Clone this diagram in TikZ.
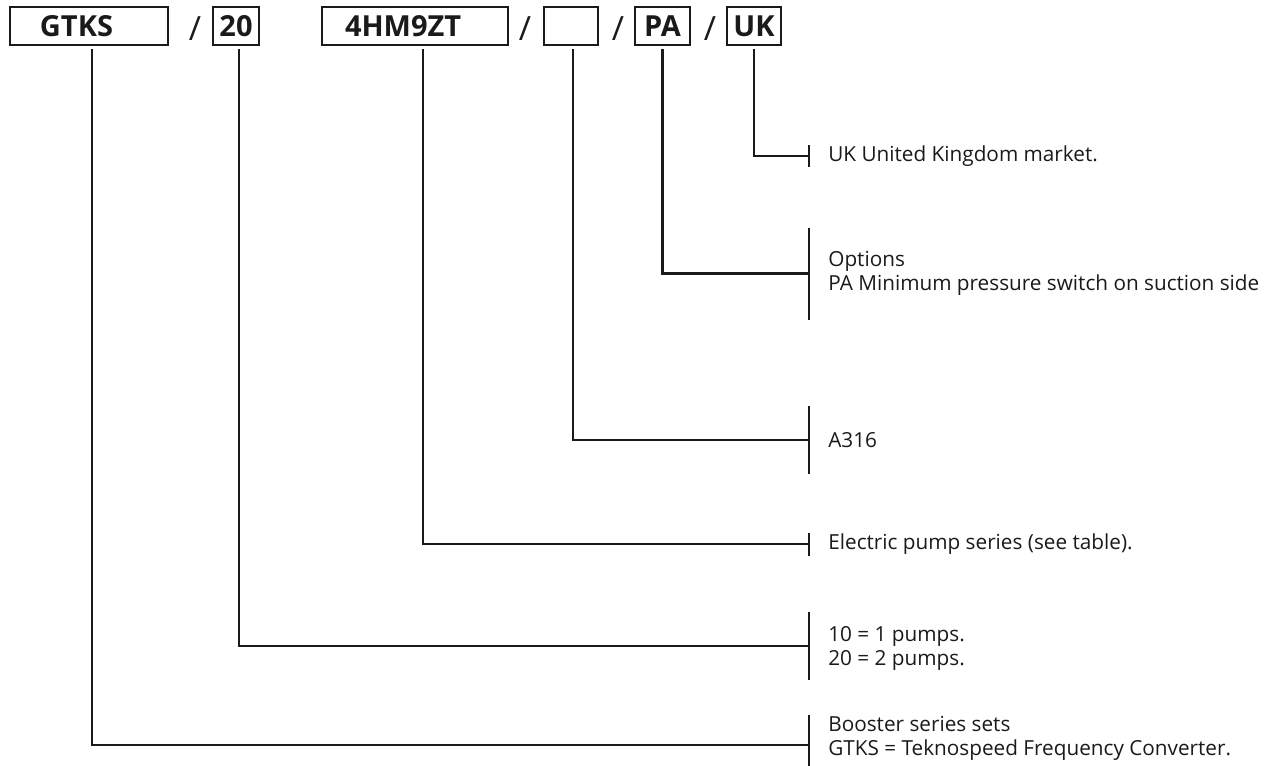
\documentclass[tikz,border=0pt]{standalone}
\usepackage{fontspec}
\setmainfont{Open Sans}
\usepackage{xcolor}
\usepackage{tikz}
\usetikzlibrary{positioning}
\definecolor{ink}{HTML}{1A1A1A}
\tikzset{
  codebox/.style={draw=ink, line width=1.4pt, minimum height=0.76cm, inner sep=0pt, text=ink, font=\fontsize{16.5}{18}\selectfont\bfseries},
  slash/.style={text=ink, inner sep=0pt, font=\fontsize{19}{20}\selectfont},
  leader/.style={draw=ink, line width=1.4pt, shorten <=0.06cm},
  tickline/.style={draw=ink, line width=1.4pt},
  lab/.style={text=ink, inner sep=0pt, align=left, font=\fontsize{11.8}{13.6}\selectfont},
}

\begin{document}
\begin{tikzpicture}
  \useasboundingbox (0,0) rectangle (25.58,-15.3);
  % code boxes
  \node[codebox, inner xsep=0.6cm, text width=1.96cm, align=left] (bG) at (1.78,-0.52) {GTKS};
  \node[slash] (s1) at (3.9,-0.57) {/};
  \node[codebox, minimum width=0.92cm] (b20) at (4.72,-0.52) {20};
  \node[codebox, inner xsep=0.46cm, text width=2.8cm, align=left] (bHM) at (8.3,-0.52) {4HM9ZT};
  \node[slash] (s2) at (10.5,-0.57) {/};
  \node[codebox, minimum width=1.08cm] (bE) at (11.42,-0.52) {};
  \node[slash] (s3) at (12.36,-0.57) {/};
  \node[codebox, minimum width=1.1cm] (bPA) at (13.25,-0.52) {PA};
  \node[slash] (s4) at (14.2,-0.57) {/};
  \node[codebox, minimum width=1.08cm] (bUK) at (15.08,-0.52) {UK};

  % tick points
  \coordinate (tUK) at (16.18,-3.12);
  \coordinate (tPA) at (16.18,-5.47);
  \coordinate (tE) at (16.18,-8.8);
  \coordinate (tHM) at (16.18,-10.88);
  \coordinate (t20) at (16.18,-12.92);
  \coordinate (tG) at (16.18,-14.9);

  \draw[tickline] ([yshift=0.21cm]tUK) -- ([yshift=-0.21cm]tUK);
  \draw[tickline] ([yshift=0.92cm]tPA) -- ([yshift=-0.92cm]tPA);
  \draw[tickline] ([yshift=0.68cm]tE) -- ([yshift=-0.68cm]tE);
  \draw[tickline] ([yshift=0.23cm]tHM) -- ([yshift=-0.23cm]tHM);
  \draw[tickline] ([yshift=0.68cm]t20) -- ([yshift=-0.68cm]t20);
  \draw[tickline] ([yshift=0.6cm]tG) -- ([yshift=-0.6cm]tG);

  % leaders
  \draw[leader] (bUK.south) |- (tUK);
  \draw[leader] (bPA.south) |- (tPA);
  \draw[leader] ([xshift=0.04cm]bE.south) |- (tE);
  \draw[leader] ([xshift=0.16cm]bHM.south) |- (tHM);
  \draw[leader] ([xshift=0.06cm]b20.south) |- (t20);
  \draw[leader] ([xshift=0.06cm]bG.south) |- (tG);

  % descriptions
  \node[lab, right=0.38cm of tUK] (dUK) {UK United Kingdom market.};
  \node[lab, right=0.38cm of tPA] (dPA) {Options\\PA Minimum pressure switch on suction side};
  \node[lab, right=0.38cm of tE] (dE) {A316};
  \node[lab, right=0.38cm of tHM] (dHM) {Electric pump series (see table).};
  \node[lab, right=0.38cm of t20, yshift=-0.05cm] (d20) {10 = 1 pumps.\\20 = 2 pumps.};
  \node[lab, right=0.38cm of tG, yshift=0.14cm] (dG) {Booster series sets\\GTKS = Teknospeed Frequency Converter.};
\end{tikzpicture}
\end{document}
